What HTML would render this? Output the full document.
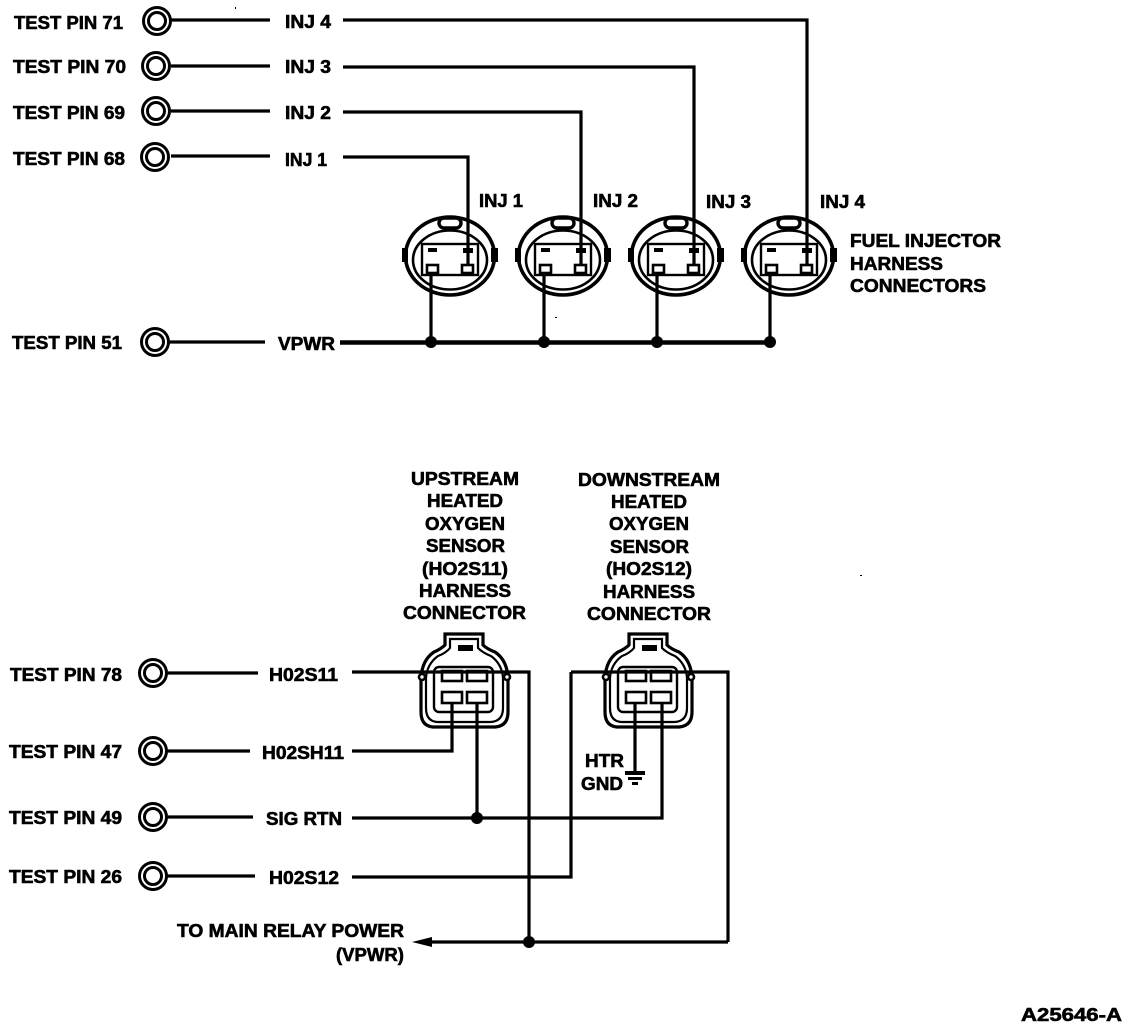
<!DOCTYPE html>
<html>
<head>
<meta charset="utf-8">
<style>
html,body{margin:0;padding:0;background:#fff;}
svg{display:block;}
text{font-family:"Liberation Sans",sans-serif;font-weight:bold;font-size:18px;fill:#000;stroke:#000;stroke-width:.6;}
.w{fill:none;stroke:#000;stroke-width:3.2;}
.t{fill:none;stroke:#000;stroke-width:2.6;}
.o{fill:none;stroke:#000;stroke-width:3;}
.f{fill:#fff;stroke:#000;stroke-width:2.6;}
.k{fill:#000;stroke:none;}
</style>
</head>
<body>
<svg width="1136" height="1030" viewBox="0 0 1136 1030" xmlns="http://www.w3.org/2000/svg">
<defs>
<g id="pin"><circle r="13.5" class="o"/><circle r="8.5" class="o"/></g>
<g id="inj">
  <ellipse cx="450" cy="256" rx="44.500" ry="39" fill="none" stroke="#000" stroke-width="3.6"/>
  <path class="k" d="M402 248h6v14h-6zM491 248h7v14h-7z"/>
  <ellipse cx="450" cy="260" rx="37" ry="29.500" class="t"/>
  <rect x="439" y="218" width="22" height="10" rx="5" fill="#fff" stroke="#000" stroke-width="3.4"/>
  <rect x="422" y="244" width="56" height="31" fill="#fff" stroke="#000" stroke-width="2.4"/>
  <rect x="428" y="248" width="9" height="4" class="k"/>
  <rect x="463" y="248" width="10" height="5" class="k"/>
  <rect x="427" y="265" width="11" height="8" class="f"/>
  <rect x="462" y="265" width="11" height="8" class="f"/>
</g>
<g id="hc">
  <path d="M445 634H483V645Q487 649 495 652Q507 660 508 678V712Q508 726 495 727H433Q421 726 421 712V678Q422 660 434 652Q441 649 445 645Z" fill="#fff" stroke="#000" stroke-width="3.2"/>
  <path d="M450 639H478V648Q483 653 491 656Q502 664 503 678V708Q503 721 491 722H437Q426 721 426 708V678Q427 664 438 656Q446 653 450 648Z" fill="#fff" stroke="#000" stroke-width="2.2"/>
  <rect x="434" y="667" width="59" height="45" rx="5" fill="#fff" stroke="#000" stroke-width="2.4"/>
  <rect x="458" y="645" width="15" height="6" class="k"/>
  <rect x="442" y="671" width="20" height="10" class="f"/>
  <rect x="467" y="671" width="20" height="10" class="f"/>
  <rect x="442" y="692" width="20" height="11" class="f"/>
  <rect x="467" y="692" width="20" height="11" class="f"/>
</g>
</defs>

<!-- injector connectors -->
<use href="#inj"/>
<use href="#inj" x="113"/>
<use href="#inj" x="226"/>
<use href="#inj" x="339"/>

<!-- test pins -->
<use href="#pin" x="157" y="21"/>
<use href="#pin" x="156" y="66"/>
<use href="#pin" x="156" y="111"/>
<use href="#pin" x="155" y="157"/>
<use href="#pin" x="155" y="342"/>
<use href="#pin" x="153" y="673"/>
<use href="#pin" x="153" y="751"/>
<use href="#pin" x="153" y="817"/>
<use href="#pin" x="153" y="876"/>

<!-- top wiring -->
<path class="w" d="M171 20H270M171 66H270M171 111H270M171 156H270"/>
<path class="w" d="M343 20H807V266"/>
<path class="w" d="M343 67H694V266"/>
<path class="w" d="M343 112H581V266"/>
<path class="w" d="M343 157H468V266"/>
<path class="w" d="M169 342H265"/>
<path d="M340 342.500H770" fill="none" stroke="#000" stroke-width="4.500"/>
<path class="w" d="M431 273V342M544 273V342M657 273V342M770 273V342"/>
<circle cx="431" cy="342" r="6" class="k"/>
<circle cx="544" cy="342" r="6" class="k"/>
<circle cx="657" cy="342" r="6" class="k"/>
<circle cx="770" cy="342" r="6" class="k"/>

<!-- HO2S connectors -->
<use href="#hc"/>
<use href="#hc" x="184"/>
<circle cx="422" cy="677" r="3" class="f"/>
<circle cx="507" cy="677" r="3" class="f"/>
<circle cx="606" cy="677" r="3" class="f"/>
<circle cx="691" cy="677" r="3" class="f"/>

<!-- bottom wiring -->
<path class="w" d="M167 673H258M167 751H250M167 817H253M167 876H255"/>
<path class="w" d="M352 672H529V942"/>
<path class="w" d="M571 672H728V942"/>
<path class="w" d="M352 877H571V672"/>
<path class="w" d="M352 751H452V702"/>
<path class="w" d="M352 818H662V702"/>
<path class="w" d="M477 702V818"/>
<path class="w" d="M635 702V772"/>
<path class="w" d="M425 942H728"/>
<path class="k" d="M412 942L432 937V947Z"/>
<circle cx="477" cy="818" r="6" class="k"/>
<circle cx="529" cy="942" r="6" class="k"/>
<path class="k" d="M625 771H645V775H625ZM628 777H642V780H628ZM632 782H638V785H632Z"/>

<!-- labels -->
<text x="14" y="29" textLength="109" lengthAdjust="spacingAndGlyphs">TEST PIN 71</text>
<text x="13" y="73" textLength="113" lengthAdjust="spacingAndGlyphs">TEST PIN 70</text>
<text x="13" y="119" textLength="112" lengthAdjust="spacingAndGlyphs">TEST PIN 69</text>
<text x="13" y="165" textLength="112" lengthAdjust="spacingAndGlyphs">TEST PIN 68</text>
<text x="285" y="28" textLength="46" lengthAdjust="spacingAndGlyphs">INJ 4</text>
<text x="285" y="73" textLength="46" lengthAdjust="spacingAndGlyphs">INJ 3</text>
<text x="285" y="119" textLength="46" lengthAdjust="spacingAndGlyphs">INJ 2</text>
<text x="285" y="166" textLength="42" lengthAdjust="spacingAndGlyphs">INJ 1</text>
<text x="479" y="207" textLength="44" lengthAdjust="spacingAndGlyphs">INJ 1</text>
<text x="593" y="207" textLength="45" lengthAdjust="spacingAndGlyphs">INJ 2</text>
<text x="706" y="208" textLength="45" lengthAdjust="spacingAndGlyphs">INJ 3</text>
<text x="820" y="208" textLength="45" lengthAdjust="spacingAndGlyphs">INJ 4</text>
<text x="850" y="247" textLength="151" lengthAdjust="spacingAndGlyphs">FUEL INJECTOR</text>
<text x="850" y="270" textLength="93" lengthAdjust="spacingAndGlyphs">HARNESS</text>
<text x="850" y="292" textLength="136" lengthAdjust="spacingAndGlyphs">CONNECTORS</text>
<text x="12" y="349" textLength="110" lengthAdjust="spacingAndGlyphs">TEST PIN 51</text>
<text x="278" y="350" textLength="57" lengthAdjust="spacingAndGlyphs">VPWR</text>

<text x="411" y="485" textLength="108" lengthAdjust="spacingAndGlyphs">UPSTREAM</text>
<text x="427" y="507" textLength="76" lengthAdjust="spacingAndGlyphs">HEATED</text>
<text x="425" y="530" textLength="80" lengthAdjust="spacingAndGlyphs">OXYGEN</text>
<text x="426" y="552" textLength="79" lengthAdjust="spacingAndGlyphs">SENSOR</text>
<text x="422" y="575" textLength="86" lengthAdjust="spacingAndGlyphs">(HO2S11)</text>
<text x="419" y="597" textLength="92" lengthAdjust="spacingAndGlyphs">HARNESS</text>
<text x="403" y="619" textLength="123" lengthAdjust="spacingAndGlyphs">CONNECTOR</text>

<text x="578" y="486" textLength="142" lengthAdjust="spacingAndGlyphs">DOWNSTREAM</text>
<text x="611" y="508" textLength="76" lengthAdjust="spacingAndGlyphs">HEATED</text>
<text x="609" y="530" textLength="80" lengthAdjust="spacingAndGlyphs">OXYGEN</text>
<text x="610" y="553" textLength="79" lengthAdjust="spacingAndGlyphs">SENSOR</text>
<text x="606" y="575" textLength="86" lengthAdjust="spacingAndGlyphs">(HO2S12)</text>
<text x="603" y="598" textLength="92" lengthAdjust="spacingAndGlyphs">HARNESS</text>
<text x="587" y="620" textLength="124" lengthAdjust="spacingAndGlyphs">CONNECTOR</text>

<text x="10" y="681" textLength="112" lengthAdjust="spacingAndGlyphs">TEST PIN 78</text>
<text x="9" y="758" textLength="113" lengthAdjust="spacingAndGlyphs">TEST PIN 47</text>
<text x="9" y="824" textLength="113" lengthAdjust="spacingAndGlyphs">TEST PIN 49</text>
<text x="9" y="883" textLength="113" lengthAdjust="spacingAndGlyphs">TEST PIN 26</text>
<text x="269" y="681" textLength="69" lengthAdjust="spacingAndGlyphs">H02S11</text>
<text x="262" y="759" textLength="82" lengthAdjust="spacingAndGlyphs">H02SH11</text>
<text x="266" y="825" textLength="76" lengthAdjust="spacingAndGlyphs">SIG RTN</text>
<text x="269" y="884" textLength="70" lengthAdjust="spacingAndGlyphs">H02S12</text>
<text x="177" y="937" textLength="227" lengthAdjust="spacingAndGlyphs">TO MAIN RELAY POWER</text>
<text x="336" y="961" textLength="68" lengthAdjust="spacingAndGlyphs">(VPWR)</text>
<text x="585" y="767" textLength="39" lengthAdjust="spacingAndGlyphs">HTR</text>
<text x="581" y="790" textLength="42" lengthAdjust="spacingAndGlyphs">GND</text>
<text x="1021" y="1021" textLength="101" lengthAdjust="spacingAndGlyphs">A25646-A</text>

<!-- scan specks -->
<path class="k" d="M235 7h1v2h-1zM555 317h2v1h-2zM860 575h2v1h-2z"/>
</svg>
</body>
</html>
